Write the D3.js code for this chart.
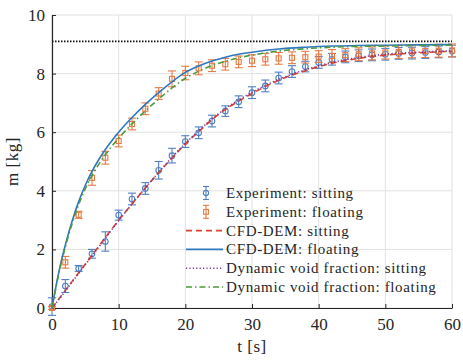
<!DOCTYPE html>
<html>
<head>
<meta charset="utf-8">
<script src="https://cdn.jsdelivr.net/npm/d3@7"></script>
<style>
    body { margin: 0; background: #fff; }
    text { font-family: "Liberation Serif", "DejaVu Serif", serif; fill: #262626; }
</style>
</head>
<body>
<svg id="chart" width="463" height="362"></svg>
<script>
"use strict";

// experiment, every 2 s
var expTime = [0, 2, 4, 6, 8, 10, 12, 14, 16, 18, 20, 22, 24, 26, 28, 30,
    32, 34, 36, 38, 40, 42, 44, 46, 48, 50, 52, 54, 56, 58, 60];
var sittingExp = [0.05, 0.75, 1.35, 1.85, 2.27, 3.17, 3.72, 4.08, 4.7, 5.2, 5.68,
    5.98, 6.38, 6.72, 7.04, 7.35, 7.58, 7.85, 8.07, 8.24, 8.38, 8.49, 8.57,
    8.61, 8.64, 8.66, 8.69, 8.7, 8.72, 8.74, 8.77];
var sittingErr = [0.3, 0.22, 0.1, 0.15, 0.33, 0.17, 0.2, 0.2, 0.3, 0.25, 0.2,
    0.2, 0.2, 0.18, 0.2, 0.2, 0.2, 0.2, 0.2, 0.18, 0.2, 0.2, 0.2, 0.2, 0.2,
    0.2, 0.2, 0.2, 0.2, 0.2, 0.2];
var floatingExp = [0, 1.56, 3.18, 4.44, 5.13, 5.7, 6.28, 6.8, 7.32, 7.82, 8.02,
    8.18, 8.27, 8.32, 8.4, 8.44, 8.49, 8.52, 8.54, 8.56, 8.58, 8.6, 8.63, 8.66,
    8.69, 8.72, 8.74, 8.76, 8.77, 8.78, 8.79];
var floatingErr = [0.05, 0.2, 0.12, 0.25, 0.22, 0.2, 0.2, 0.2, 0.2, 0.27, 0.23,
    0.22, 0.2, 0.2, 0.2, 0.2, 0.2, 0.2, 0.2, 0.2, 0.2, 0.22, 0.22, 0.22, 0.22,
    0.22, 0.22, 0.22, 0.22, 0.22, 0.22];

// simulations
var simTime = [0, 1, 2, 3, 4, 5, 6, 7, 8, 10, 12, 14, 16, 18, 20, 22, 24, 26,
    28, 30, 34, 38, 42, 46, 50, 55, 60];
var cfdSitting = [0, 0.3, 0.6, 0.9, 1.2, 1.5, 1.8, 2.1, 2.4, 3.0, 3.55, 4.1,
    4.62, 5.12, 5.6, 6.02, 6.43, 6.78, 7.06, 7.32, 7.77, 8.1, 8.35, 8.52, 8.63,
    8.71, 8.76];
var cfdFloating = [0, 1.2, 2.15, 2.95, 3.63, 4.19, 4.66, 5.06, 5.41, 6.0, 6.5,
    6.95, 7.35, 7.72, 8.04, 8.26, 8.43, 8.56, 8.66, 8.73, 8.84, 8.9, 8.94, 8.96,
    8.97, 8.98, 8.99];
var dvfSitting = [0, 0.28, 0.58, 0.88, 1.18, 1.48, 1.78, 2.08, 2.38, 2.98,
    3.55, 4.1, 4.63, 5.14, 5.62, 6.05, 6.45, 6.8, 7.1, 7.36, 7.8, 8.13, 8.38,
    8.55, 8.66, 8.73, 8.78];
var dvfFloating = [0, 1.15, 2.08, 2.87, 3.53, 4.07, 4.52, 4.9, 5.23, 5.8, 6.28,
    6.73, 7.13, 7.51, 7.84, 8.08, 8.27, 8.42, 8.54, 8.63, 8.77, 8.85, 8.9, 8.93,
    8.94, 8.96, 8.97];
var totalMass = 9.1;

var xTicks = [0, 10, 20, 30, 40, 50, 60];
var yTicks = [0, 2, 4, 6, 8, 10];

var margin = { top: 15, right: 11, bottom: 54, left: 52 };
var width = 463 - margin.left - margin.right;
var height = 362 - margin.top - margin.bottom;

var svg = d3.select("#chart");
var g = svg.append("g")
    .attr("transform", "translate(" + margin.left + "," + margin.top + ")");

var x = d3.scaleLinear().domain([0, 60]).range([0, width]);
var y = d3.scaleLinear().domain([0, 10]).range([height, 0]);

// grid
g.append("g").selectAll("line").data(xTicks).join("line")
    .attr("x1", function(d) { return x(d); })
    .attr("x2", function(d) { return x(d); })
    .attr("y1", 0).attr("y2", height)
    .attr("stroke", "#e1e1e1").attr("stroke-width", 1);
g.append("g").selectAll("line").data(yTicks).join("line")
    .attr("y1", function(d) { return y(d); })
    .attr("y2", function(d) { return y(d); })
    .attr("x1", 0).attr("x2", width)
    .attr("stroke", "#e1e1e1").attr("stroke-width", 1);

// axes, ticks pointing inward
var xAxis = g.append("g")
    .attr("transform", "translate(0," + height + ")")
    .call(d3.axisBottom(x).tickValues(xTicks).tickSizeInner(-4).tickSizeOuter(0).tickPadding(10));
var yAxis = g.append("g")
    .call(d3.axisLeft(y).tickValues(yTicks).tickSizeInner(-4).tickSizeOuter(0).tickPadding(7));
[xAxis, yAxis].forEach(function(ax) {
    ax.select(".domain").attr("stroke", "#262626").attr("stroke-width", 1.2);
    ax.selectAll(".tick line").attr("stroke", "#262626");
    ax.selectAll(".tick text")
        .attr("font-family", "Liberation Serif, serif")
        .attr("font-size", 17)
        .attr("fill", "#262626");
});

g.append("text")
    .attr("x", width / 2).attr("y", height + 44)
    .attr("text-anchor", "middle")
    .attr("font-size", 17)
    .attr("letter-spacing", 0.5)
    .text("t [s]");
g.append("text")
    .attr("transform", "translate(" + (-34) + "," + (height / 2) + ") rotate(-90)")
    .attr("text-anchor", "middle")
    .attr("font-size", 17)
    .attr("letter-spacing", 0.5)
    .text("m [kg]");

var colors = {
    sitExp: "#4f7fc4",
    floExp: "#e67a43",
    cfdSit: "#d8432c",
    cfdFlo: "#2f78bf",
    dvfSit: "#7a3c9a",
    dvfFlo: "#4c9a3c"
};

// experiment error bars
function drawErrorBars(values, errs, color, marker) {
    var data = expTime.map(function(t, i) {
        return { t: t, v: values[i], e: errs[i] };
    });
    var grp = g.append("g").attr("stroke", color).attr("fill", "none").attr("stroke-width", 1.1);
    var pts = grp.selectAll("g").data(data).join("g");
    pts.append("line")
        .attr("x1", function(d) { return x(d.t); })
        .attr("x2", function(d) { return x(d.t); })
        .attr("y1", function(d) { return y(d.v - d.e); })
        .attr("y2", function(d) { return y(d.v + d.e); });
    [-1, 1].forEach(function(s) {
        pts.append("line")
            .attr("x1", function(d) { return x(d.t) - 4; })
            .attr("x2", function(d) { return x(d.t) + 4; })
            .attr("y1", function(d) { return y(d.v + s * d.e); })
            .attr("y2", function(d) { return y(d.v + s * d.e); });
    });
    if (marker == "circle") {
        pts.append("circle")
            .attr("cx", function(d) { return x(d.t); })
            .attr("cy", function(d) { return y(d.v); })
            .attr("r", 2.8);
    } else {
        pts.append("rect")
            .attr("x", function(d) { return x(d.t) - 2.5; })
            .attr("y", function(d) { return y(d.v) - 2.5; })
            .attr("width", 5).attr("height", 5);
    }
}
drawErrorBars(sittingExp, sittingErr, colors.sitExp, "circle");
drawErrorBars(floatingExp, floatingErr, colors.floExp, "square");

var lineMaker = d3.line()
    .curve(d3.curveMonotoneX)
    .x(function(d) { return x(d[0]); })
    .y(function(d) { return y(d[1]); });

function drawCurve(times, values, color, dash) {
    g.append("path")
        .datum(times.map(function(t, i) { return [t, values[i]]; }))
        .attr("d", lineMaker)
        .attr("fill", "none")
        .attr("stroke", color)
        .attr("stroke-width", 1.6)
        .attr("stroke-dasharray", dash);
}
drawCurve(simTime, cfdSitting, colors.cfdSit, "6,4");
drawCurve(simTime, cfdFloating, colors.cfdFlo, null);
drawCurve(simTime, dvfSitting, colors.dvfSit, "1.2,2.2");
drawCurve(simTime, dvfFloating, colors.dvfFlo, "6,3,1.5,3");
drawCurve([0, 60], [totalMass, totalMass], "#111", "1.5,1.5");

// legend
var legendItems = [
    { label: "Experiment: sitting", color: colors.sitExp, kind: "circle" },
    { label: "Experiment: floating", color: colors.floExp, kind: "square" },
    { label: "CFD-DEM: sitting", color: colors.cfdSit, kind: "line", dash: "6,4" },
    { label: "CFD-DEM: floating", color: colors.cfdFlo, kind: "line", dash: null },
    { label: "Dynamic void fraction: sitting", color: colors.dvfSit, kind: "line", dash: "1.2,2.2" },
    { label: "Dynamic void fraction: floating", color: colors.dvfFlo, kind: "line", dash: "6,3,1.5,3" }
];
var legend = g.append("g").attr("transform", "translate(134,178)");
var rows = legend.selectAll("g").data(legendItems).join("g")
    .attr("transform", function(d, i) { return "translate(0," + (i * 18.8) + ")"; });
rows.each(function(d) {
    var row = d3.select(this);
    if (d.kind == "line") {
        row.append("line")
            .attr("x1", 0).attr("x2", 37).attr("y1", 0).attr("y2", 0)
            .attr("stroke", d.color).attr("stroke-width", 1.6)
            .attr("stroke-dasharray", d.dash);
    } else {
        var eb = row.append("g").attr("stroke", d.color).attr("fill", "none").attr("stroke-width", 1.1);
        eb.append("line").attr("x1", 20).attr("x2", 20).attr("y1", -6.5).attr("y2", 6.5);
        eb.append("line").attr("x1", 17).attr("x2", 23).attr("y1", -6.5).attr("y2", -6.5);
        eb.append("line").attr("x1", 17).attr("x2", 23).attr("y1", 6.5).attr("y2", 6.5);
        if (d.kind == "circle") {
            eb.append("circle").attr("cx", 20).attr("cy", 0).attr("r", 2.6);
        } else {
            eb.append("rect").attr("x", 17.6).attr("y", -2.4).attr("width", 4.8).attr("height", 4.8);
        }
    }
    row.append("text")
        .attr("x", 40).attr("y", 5)
        .attr("font-size", 15)
        .attr("letter-spacing", 0.65)
        .text(d.label);
});
</script>
</body>
</html>
